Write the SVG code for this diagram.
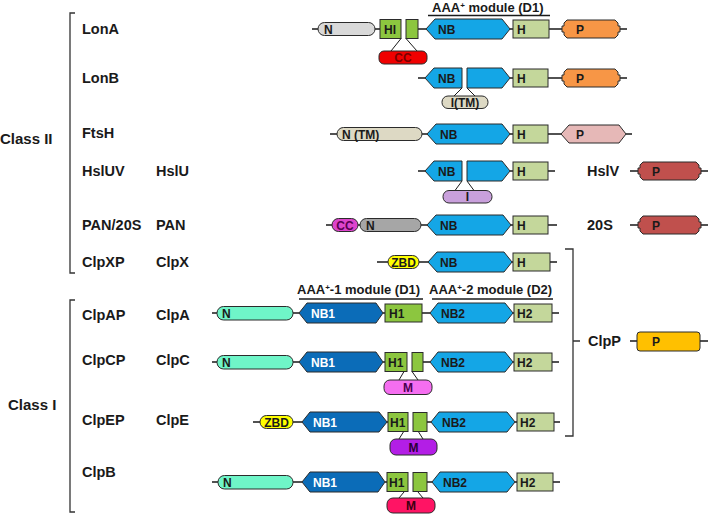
<svg xmlns="http://www.w3.org/2000/svg" width="709" height="515" viewBox="0 0 709 515">
<style>
.s{stroke:#2b2b2b;stroke-width:1}
.ln{stroke:#1a1a1a;stroke-width:1.3;fill:none}
.br{stroke:#333;stroke-width:1.3;fill:none}
.t{font-family:"Liberation Sans",Arial,sans-serif;font-weight:bold;font-size:12px;fill:#1a1a1a}
.tc{text-anchor:middle}
.w{fill:#ffffff}
.lb{font-family:"Liberation Sans",Arial,sans-serif;font-weight:bold;font-size:14.5px;fill:#1a1a1a}
.nb{fill:#14a6e6}
.nb1{fill:#0b6cb8}
.hi{fill:#8cc63f}
.h{fill:#c4d79b}
.po{fill:#f79646}
.pr{fill:#c0504d}
</style>
<rect width="709" height="515" fill="#ffffff"/>

<g id="left-labels">
<path class="br" d="M75,13 H70 V273 H75"/>
<path class="br" d="M75,300 H70 V512 H75"/>
<text class="lb" x="0" y="144" style="font-size:15px">Class II</text>
<text class="lb" x="8" y="410" style="font-size:15px">Class I</text>
<text class="lb" x="82" y="34">LonA</text>
<text class="lb" x="82" y="83">LonB</text>
<text class="lb" x="82" y="138">FtsH</text>
<text class="lb" x="82" y="176">HslUV</text>
<text class="lb" x="156" y="176">HslU</text>
<text class="lb" x="82" y="230">PAN/20S</text>
<text class="lb" x="156" y="230">PAN</text>
<text class="lb" x="82" y="267">ClpXP</text>
<text class="lb" x="156" y="267">ClpX</text>
<text class="lb" x="82" y="320">ClpAP</text>
<text class="lb" x="156" y="320">ClpA</text>
<text class="lb" x="82" y="365">ClpCP</text>
<text class="lb" x="156" y="365">ClpC</text>
<text class="lb" x="82" y="425">ClpEP</text>
<text class="lb" x="156" y="425">ClpE</text>
<text class="lb" x="82" y="477">ClpB</text>
</g>

<g id="module-labels">
<text class="t" style="font-size:13px" x="432" y="12">AAA<tspan font-size="8" dy="-4">+</tspan><tspan dy="4"> module (D1)</tspan></text>
<line class="ln" x1="428" y1="15.5" x2="550" y2="15.5"/>
<text class="t" style="font-size:13px" x="297" y="294">AAA<tspan font-size="8" dy="-4">+</tspan><tspan dy="4">-1 module (D1)</tspan></text>
<line class="ln" x1="299" y1="299" x2="423" y2="299"/>
<text class="t" style="font-size:13px" x="429" y="294">AAA<tspan font-size="8" dy="-4">+</tspan><tspan dy="4">-2 module (D2)</tspan></text>
<line class="ln" x1="432" y1="299" x2="553" y2="299"/>
</g>

<g id="connectors">
<path class="ln" d="M312,29H318 M375,29H380 M418,29H426 M510,29H513 M549,29H562 M620,29H627"/>
<path class="ln" d="M401,38.5L391,51 M406,38.5L417,51" style="stroke-width:1"/>
<path class="ln" d="M418,78H425 M510,78H513 M548,78H562 M620,78H627"/>
<path class="ln" d="M462,88L454,96 M467,88L475,96" style="stroke-width:1"/>
<path class="ln" d="M330,134H337 M422,134H427 M510,134H513 M548,134H561 M626,134H632"/>
<path class="ln" d="M418,171H425 M510,171H513 M548,171H555 M630,171H638 M701,171H708"/>
<path class="ln" d="M462,181L455,190.5 M467,181L474,190.5" style="stroke-width:1"/>
<path class="ln" d="M326,225H332 M358,225H360 M421,225H427 M511,225H513 M548,225H557 M630,225H638 M701,225H708"/>
<path class="ln" d="M377,262H388 M419,262H428 M512,262H513 M550,262H557"/>
<path class="br" d="M565,249H573V436H565 M573,341H580"/>
<path class="ln" d="M630,341H637 M700,341H708"/>
<path class="ln" d="M212,313H217 M293,313H299 M383,313H385 M422,313H430 M513,313H514 M552,313H559"/>
<path class="ln" d="M212,362H217 M293,362H299 M383,362H385 M423,362H430 M513,362H514 M552,362H559"/>
<path class="ln" d="M404,371.5L399,380 M412,371.5L418,380" style="stroke-width:1"/>
<path class="ln" d="M253,422H260 M293,422H302 M387,422H388 M427,422H431 M515,422H517 M554,422H560"/>
<path class="ln" d="M404,431L399,439 M418,431L423,439" style="stroke-width:1"/>
<path class="ln" d="M212,482H218 M293,482H302 M385,482H387 M427,482H432 M515,482H517 M553,482H560"/>
<path class="ln" d="M404,492L399,498 M418,492L423,498" style="stroke-width:1"/>
</g>

<g id="LonA">
<rect class="s" x="318" y="22.5" width="57" height="13" rx="6.5" fill="#d9d9d9"/>
<text class="t" x="324" y="33.5">N</text>
<rect class="s hi" x="380" y="19.5" width="21" height="19"/>
<text class="t" x="384" y="33.5">HI</text>
<rect class="s hi" x="406" y="19.5" width="12" height="19"/>
<polygon class="s nb" points="426,29 435,19 502,19 510,29 502,39 435,39"/>
<text class="t" x="438" y="33.5">NB</text>
<rect class="s h" x="513" y="20" width="36" height="18"/>
<text class="t" x="517" y="33.5">H</text>
<path class="s po" d="M567,20H615L618,23V26H620V32H618V35L615,38H567L564,35V32H562V26H564V23Z"/>
<text class="t" x="576" y="33.5">P</text>
<rect class="s" x="379" y="51" width="48" height="13" rx="5" fill="#f00000"/>
<text class="t tc" x="403" y="62" style="fill:#7a0000">CC</text>
</g>

<g id="LonB">
<polygon class="s nb" points="425,78 434,68 462,68 462,88 434,88"/>
<text class="t" x="438" y="82.5">NB</text>
<polygon class="s nb" points="467,68 502,68 510,78 502,88 467,88"/>
<rect class="s h" x="513" y="69" width="35" height="18"/>
<text class="t" x="517" y="82.5">H</text>
<path class="s po" d="M567,69H615L618,72V75H620V81H618V84L615,87H567L564,84V81H562V75H564V72Z"/>
<text class="t" x="576" y="82.5">P</text>
<rect class="s" x="442" y="96" width="46" height="12.5" rx="6" fill="#ddd9c4"/>
<text class="t tc" x="465" y="106.5">I(TM)</text>
</g>

<g id="FtsH">
<rect class="s" x="337" y="127.5" width="85" height="13" rx="6.5" fill="#ddd9c4"/>
<text class="t" x="342" y="138.5">N (TM)</text>
<polygon class="s nb" points="427,134 436,124 502,124 510,134 502,144 436,144"/>
<text class="t" x="440" y="138.5">NB</text>
<rect class="s h" x="513" y="125" width="35" height="18"/>
<text class="t" x="517" y="138.5">H</text>
<polygon class="s" points="561,134 569,125 619,125 626,134 619,143 569,143" fill="#e6b8b7"/>
<text class="t" x="576" y="138.5">P</text>
</g>

<g id="HslU">
<polygon class="s nb" points="425,171 434,161 462,161 462,181 434,181"/>
<text class="t" x="438" y="175.5">NB</text>
<polygon class="s nb" points="467,161 502,161 510,171 502,181 467,181"/>
<rect class="s h" x="513" y="162" width="35" height="18"/>
<text class="t" x="517" y="175.5">H</text>
<rect class="s" x="443" y="190.5" width="49" height="12.5" rx="6" fill="#c9a0dc"/>
<text class="t tc" x="467.5" y="201">I</text>
</g>

<g id="HslV">
<text class="lb" x="587" y="176">HslV</text>
<path class="s pr" d="M643,162H696L699,165V168H701V174H699V177L696,180H643L640,177V174H638V168H640V165Z"/>
<text class="t" x="652" y="175.5">P</text>
</g>

<g id="PAN">
<rect class="s" x="332" y="218.5" width="26" height="13" rx="6.5" fill="#dd44cc"/>
<text class="t tc" x="345" y="229.5" style="fill:#5a0050">CC</text>
<rect class="s" x="360" y="218.5" width="61" height="13" rx="6.5" fill="#a6a6a6"/>
<text class="t" x="366" y="229.5">N</text>
<polygon class="s nb" points="427,225 436,215 503,215 511,225 503,235 436,235"/>
<text class="t" x="440" y="229.5">NB</text>
<rect class="s h" x="513" y="216" width="35" height="18"/>
<text class="t" x="517" y="229.5">H</text>
</g>

<g id="20S">
<text class="lb" x="587" y="230">20S</text>
<path class="s pr" d="M643,216H696L699,219V222H701V228H699V231L696,234H643L640,231V228H638V222H640V219Z"/>
<text class="t" x="652" y="229.5">P</text>
</g>

<g id="ClpX">
<rect class="s" x="388" y="255.5" width="31" height="13" rx="6.5" fill="#ffff00"/>
<text class="t tc" x="403.5" y="266.5">ZBD</text>
<polygon class="s nb" points="428,262 437,252 504,252 512,262 504,272 437,272"/>
<text class="t" x="440" y="266.5">NB</text>
<rect class="s h" x="513" y="253" width="37" height="18"/>
<text class="t" x="517" y="266.5">H</text>
</g>

<g id="ClpP">
<text class="lb" x="588" y="346">ClpP</text>
<rect class="s" x="637" y="332" width="63" height="19" rx="3" fill="#ffc000"/>
<text class="t" x="652" y="345.5">P</text>
</g>

<g id="ClpA">
<rect class="s" x="217" y="306.5" width="76" height="13.5" rx="6.5" fill="#6ff5c8"/>
<text class="t" x="222" y="318">N</text>
<polygon class="s nb1" points="299,313 307,303 376,303 383,313 376,323 307,323"/>
<text class="t w" x="311" y="317.5">NB1</text>
<rect class="s hi" x="385" y="304" width="37" height="18"/>
<text class="t" x="389" y="317.5">H1</text>
<polygon class="s nb" points="430,313 438,303 505,303 513,313 505,323 438,323"/>
<text class="t" x="441" y="317.5">NB2</text>
<rect class="s h" x="514" y="304" width="38" height="18"/>
<text class="t" x="517" y="317.5">H2</text>
</g>

<g id="ClpC">
<rect class="s" x="217" y="355.5" width="76" height="13.5" rx="6.5" fill="#6ff5c8"/>
<text class="t" x="222" y="367">N</text>
<polygon class="s nb1" points="299,362 307,352 376,352 383,362 376,372 307,372"/>
<text class="t w" x="311" y="366.5">NB1</text>
<rect class="s hi" x="385" y="352.5" width="22" height="19"/>
<text class="t" x="388" y="366.5">H1</text>
<rect class="s hi" x="412" y="352.5" width="11" height="19"/>
<polygon class="s nb" points="430,362 438,352 505,352 513,362 505,372 438,372"/>
<text class="t" x="441" y="366.5">NB2</text>
<rect class="s h" x="514" y="353" width="38" height="18"/>
<text class="t" x="517" y="366.5">H2</text>
<rect class="s" x="384" y="380" width="48" height="14.5" rx="6" fill="#f56ef0"/>
<text class="t tc" x="408" y="391.5" style="fill:#4a0050">M</text>
</g>

<g id="ClpE">
<rect class="s" x="260" y="415.5" width="33" height="13" rx="6.5" fill="#ffff00"/>
<text class="t tc" x="276.5" y="426.5">ZBD</text>
<polygon class="s nb1" points="302,422 310,412 379,412 387,422 379,432 310,432"/>
<text class="t w" x="313" y="426.5">NB1</text>
<rect class="s hi" x="388" y="412.5" width="20" height="19"/>
<text class="t" x="390" y="426.5">H1</text>
<rect class="s hi" x="413" y="412.5" width="14" height="19"/>
<polygon class="s nb" points="431,422 439,412 507,412 515,422 507,432 439,432"/>
<text class="t" x="442" y="426.5">NB2</text>
<rect class="s h" x="517" y="413" width="37" height="18"/>
<text class="t" x="520" y="426.5">H2</text>
<rect class="s" x="390" y="439" width="47" height="16" rx="6" fill="#b31ee6"/>
<text class="t tc" x="413.5" y="451.5" style="fill:#2a0038">M</text>
</g>

<g id="ClpB">
<rect class="s" x="218" y="475.5" width="75" height="13.5" rx="6.5" fill="#6ff5c8"/>
<text class="t" x="223" y="487">N</text>
<polygon class="s nb1" points="302,482 310,472 378,472 385,482 378,492 310,492"/>
<text class="t w" x="313" y="486.5">NB1</text>
<rect class="s hi" x="387" y="472.5" width="21" height="19"/>
<text class="t" x="389" y="486.5">H1</text>
<rect class="s hi" x="413" y="472.5" width="14" height="19"/>
<polygon class="s nb" points="432,482 440,472 507,472 515,482 507,492 440,492"/>
<text class="t" x="443" y="486.5">NB2</text>
<rect class="s h" x="517" y="473" width="36" height="18"/>
<text class="t" x="520" y="486.5">H2</text>
<rect class="s" x="387" y="498" width="48" height="15" rx="6" fill="#ff1464"/>
<text class="t tc" x="411" y="510" style="fill:#3a0010">M</text>
</g>
</svg>
